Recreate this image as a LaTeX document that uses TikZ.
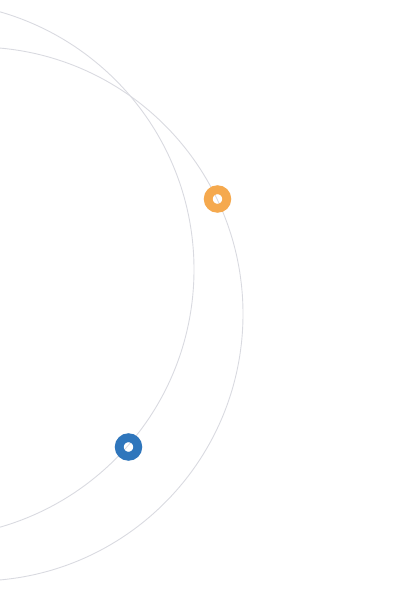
\documentclass[tikz,border=0pt]{standalone}
\usepackage{xcolor}
\usepackage{tikz}
\definecolor{grisorbita}{HTML}{D9DAE0}
\definecolor{naranja}{HTML}{F5A94E}
\definecolor{azul}{HTML}{2F76BC}
\tikzset{
  orbita/.style = {grisorbita, line width=0.9pt},
  anillo/.style = {circle, draw=#1, line width=8.8pt, minimum size=18.6pt, inner sep=0pt}
}

\begin{document}
\begin{tikzpicture}[x=1pt, y=-1pt]
  \useasboundingbox (0,0) rectangle (401,601);
  \clip (0,0) rectangle (401,601);
  \coordinate (cA) at (-74,269.5);
  \coordinate (cB) at (-24,314);
  \draw[orbita] (cA) circle[radius=268];
  \draw[orbita] (cB) circle[radius=267];
  \node[anillo=naranja] (sol) at (217.5,199) {};
  \node[anillo=azul] (tierra) at (128.5,447) {};
\end{tikzpicture}
\end{document}
